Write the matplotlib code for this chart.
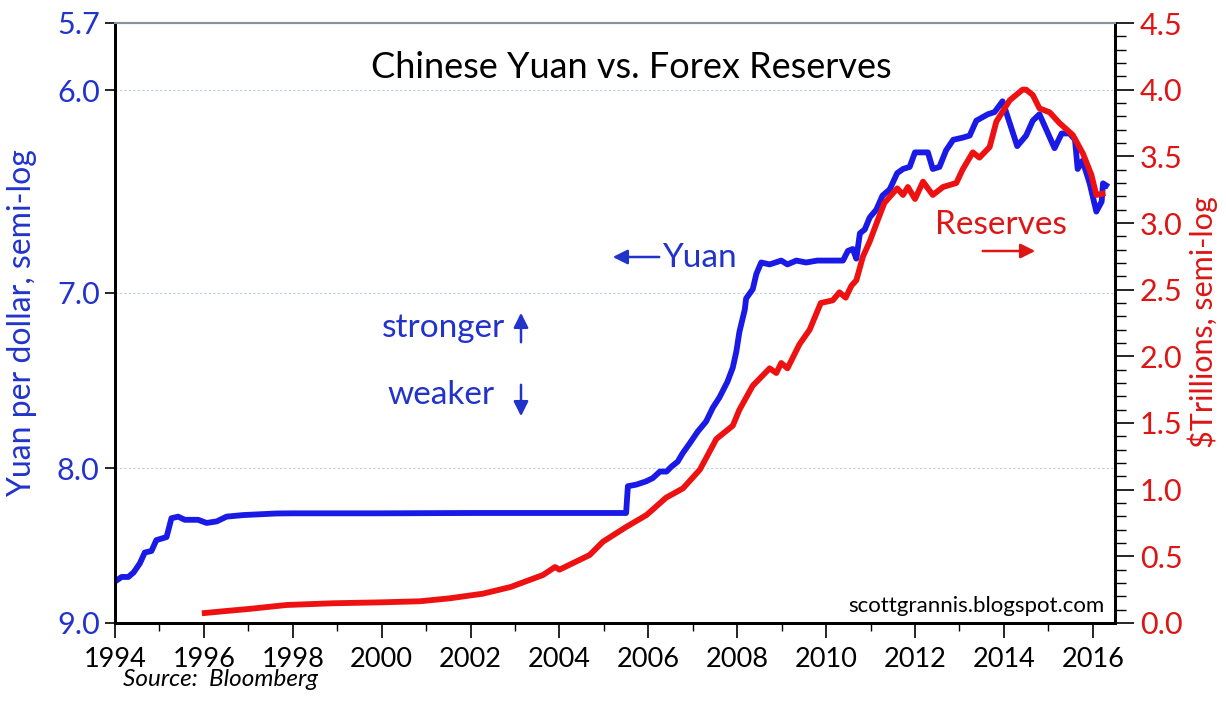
import matplotlib
matplotlib.use('Agg')
import matplotlib.pyplot as plt
from matplotlib.ticker import FixedLocator, NullLocator, MultipleLocator

# yuan per dollar (decimal year, CNY)
yuan_t = [1994.0, 1994.15, 1994.3, 1994.42, 1994.56, 1994.67, 1994.82, 1994.93,
          1995.16, 1995.27, 1995.42, 1995.57, 1995.87, 1996.06, 1996.29, 1996.51,
          1996.89, 1997.64, 1998.0, 2000.0, 2002.0, 2004.0, 2005.5,
          2005.54, 2005.73, 2005.95, 2006.1, 2006.26, 2006.41, 2006.52, 2006.66,
          2006.77, 2006.93, 2007.11, 2007.3, 2007.45, 2007.6, 2007.78, 2007.9,
          2007.98, 2008.05, 2008.17, 2008.2, 2008.35, 2008.43, 2008.54, 2008.73,
          2008.99, 2009.13, 2009.33, 2009.55, 2009.8, 2010.1, 2010.38, 2010.49,
          2010.6, 2010.68, 2010.76, 2010.87, 2010.98, 2011.13, 2011.27, 2011.43,
          2011.6, 2011.73, 2011.88, 2012.0, 2012.14, 2012.29, 2012.4, 2012.55,
          2012.7, 2012.86, 2013.07, 2013.23, 2013.38, 2013.64, 2013.79, 2013.97,
          2014.05, 2014.3, 2014.5, 2014.65, 2014.8, 2014.95, 2015.14, 2015.3,
          2015.48, 2015.6, 2015.66, 2015.77, 2015.93, 2016.08, 2016.2, 2016.23,
          2016.3]
yuan_v = [8.72, 8.69, 8.69, 8.66, 8.60, 8.53, 8.52, 8.45,
          8.43, 8.31, 8.30, 8.32, 8.32, 8.34, 8.33, 8.30,
          8.29, 8.28, 8.279, 8.279, 8.277, 8.277, 8.277,
          8.11, 8.10, 8.08, 8.06, 8.02, 8.02, 7.99, 7.96,
          7.91, 7.85, 7.78, 7.72, 7.64, 7.58, 7.49, 7.41,
          7.32, 7.21, 7.09, 7.03, 6.98, 6.90, 6.84, 6.85,
          6.83, 6.85, 6.83, 6.84, 6.83, 6.83, 6.83, 6.78,
          6.77, 6.82, 6.69, 6.67, 6.61, 6.57, 6.50, 6.47,
          6.39, 6.37, 6.36, 6.29, 6.29, 6.29, 6.37, 6.36,
          6.28, 6.23, 6.22, 6.21, 6.14, 6.11, 6.10, 6.05,
          6.10, 6.26, 6.21, 6.14, 6.11, 6.18, 6.27, 6.20,
          6.20, 6.23, 6.37, 6.33, 6.44, 6.58, 6.53, 6.44,
          6.45]

# forex reserves, $ trillions
res_t = [1996.02, 1996.5, 1997.0, 1997.86, 1998.9, 2000.0, 2000.86, 2001.53,
         2002.28, 2002.9, 2003.63, 2003.9, 2004.0, 2004.68, 2004.98, 2005.5,
         2005.96, 2006.4, 2006.78, 2007.16, 2007.53, 2007.9, 2008.05, 2008.35,
         2008.73, 2008.88, 2008.99, 2009.13, 2009.4, 2009.63, 2009.88, 2010.15,
         2010.3, 2010.44, 2010.57, 2010.68, 2010.83, 2010.98, 2011.16, 2011.31,
         2011.6, 2011.73, 2011.84, 2012.0, 2012.18, 2012.4, 2012.63, 2012.93,
         2013.07, 2013.3, 2013.45, 2013.68, 2013.83, 2014.13, 2014.42, 2014.5,
         2014.65, 2014.8, 2015.03, 2015.25, 2015.55, 2015.78, 2015.97, 2016.08,
         2016.22]
res_v = [0.075, 0.09, 0.105, 0.135, 0.148, 0.155, 0.163, 0.185,
         0.22, 0.27, 0.36, 0.42, 0.40, 0.51, 0.61, 0.72,
         0.81, 0.94, 1.01, 1.15, 1.38, 1.48, 1.60, 1.78,
         1.91, 1.875, 1.95, 1.91, 2.09, 2.20, 2.40, 2.42,
         2.48, 2.44, 2.53, 2.57, 2.75, 2.86, 3.02, 3.15,
         3.26, 3.21, 3.27, 3.18, 3.31, 3.21, 3.27, 3.30,
         3.40, 3.53, 3.49, 3.57, 3.76, 3.92, 4.00, 4.00,
         3.96, 3.86, 3.83, 3.75, 3.66, 3.52, 3.36, 3.21,
         3.22]

yuan_ticks = [5.7, 6.0, 7.0, 8.0, 9.0]
res_ticks = [0.0, 0.5, 1.0, 1.5, 2.0, 2.5, 3.0, 3.5, 4.0, 4.5]
year_ticks = list(range(1994, 2017, 2))

BLUE = '#1a1ae6'
TBLUE = '#2233cc'
RED = '#ee1111'
TRED = '#dd1515'

plt.rcParams['font.family'] = ['Lato', 'DejaVu Sans']

W, H = 1226, 706
fig = plt.figure(figsize=(W / 100, H / 100), dpi=100)
ax = fig.add_axes([115 / W, 1 - 623 / H, 1000 / W, 600 / H])
ax2 = ax.twinx()

def fx(px):
    return px / W

def fy(py):
    return 1 - py / H

# left: yuan, inverted log
ax.plot(yuan_t, yuan_v, color=BLUE, lw=4.2, solid_joinstyle='round', zorder=3)
ax.set_yscale('log')
ax.set_ylim(9.0, 5.7)
ax.yaxis.set_major_locator(FixedLocator(yuan_ticks))
ax.yaxis.set_minor_locator(NullLocator())
ax.set_yticklabels(['%.1f' % v for v in yuan_ticks])
for v in [6.0, 7.0, 8.0]:
    ax.axhline(v, color='#b8ccf0', lw=0.8, ls=(0, (2, 2)), zorder=1)
ax.tick_params(axis='y', colors=TBLUE, labelsize=22, length=7, width=1.2, pad=4)
ax.tick_params(axis='y', color='black')

ax.set_xlim(1994, 2016.5)
ax.set_xticks(year_ticks)
ax.xaxis.set_minor_locator(MultipleLocator(1))
ax.tick_params(axis='x', which='major', labelsize=19.5, length=11, width=1.2, pad=6)
ax.tick_params(axis='x', which='minor', length=6, width=1.0)

# right: reserves
ax2.plot(res_t, res_v, color=RED, lw=4.2, solid_joinstyle='round', zorder=3)
ax2.set_ylim(0, 4.5)
ax2.set_yticks(res_ticks)
ax2.set_yticklabels(['%.1f' % v for v in res_ticks])
ax2.yaxis.set_minor_locator(MultipleLocator(0.1))
ax2.tick_params(axis='y', which='major', labelcolor=TRED, labelsize=22,
                length=14, width=1.2, pad=4)
ax2.tick_params(axis='y', which='minor', length=8, width=1.0)

for a in (ax, ax2):
    a.spines['top'].set_color('#8a9299')
    a.spines['top'].set_linewidth(1.5)
    for s in ('left', 'right', 'bottom'):
        a.spines[s].set_linewidth(2)

ax.text(0.516, 0.925, 'Chinese Yuan vs. Forex Reserves', transform=ax.transAxes,
        ha='center', va='center', fontsize=26, color='black')

fig.text(fx(22), fy(323), 'Yuan per dollar, semi-log', rotation=90, color=TBLUE,
         fontsize=23, ha='center', va='center')
fig.text(fx(1203), fy(322), '$Trillions, semi-log', rotation=90, color=TRED,
         fontsize=22, ha='center', va='center')

# annotations
fig.text(fx(662), fy(258), 'Yuan', color=TBLUE, fontsize=24, ha='left', va='center')
ax.annotate('', xy=(fx(610), fy(257)), xytext=(fx(662), fy(257)),
            xycoords='figure fraction', textcoords='figure fraction',
            arrowprops=dict(arrowstyle='-|>', color=TBLUE, lw=1.8, mutation_scale=22))
fig.text(fx(1001), fy(225), 'Reserves', color=TRED, fontsize=24, ha='center', va='center')
ax.annotate('', xy=(fx(1038), fy(251)), xytext=(fx(980), fy(251)),
            xycoords='figure fraction', textcoords='figure fraction',
            arrowprops=dict(arrowstyle='-|>', color=TRED, lw=1.8, mutation_scale=22))

fig.text(fx(505), fy(328), 'stronger', color=TBLUE, fontsize=24, ha='right', va='center')
ax.annotate('', xy=(fx(521), fy(310)), xytext=(fx(521), fy(345)),
            xycoords='figure fraction', textcoords='figure fraction',
            arrowprops=dict(arrowstyle='-|>', color=TBLUE, lw=1.8, mutation_scale=22))
fig.text(fx(495), fy(395), 'weaker', color=TBLUE, fontsize=24, ha='right', va='center')
ax.annotate('', xy=(fx(521), fy(419)), xytext=(fx(521), fy(382)),
            xycoords='figure fraction', textcoords='figure fraction',
            arrowprops=dict(arrowstyle='-|>', color=TBLUE, lw=1.8, mutation_scale=22))

fig.text(fx(1105), fy(606), 'scottgrannis.blogspot.com', color='black', fontsize=16,
         ha='right', va='center')
fig.text(fx(123), fy(680), 'Source:  Bloomberg', color='black', fontsize=17.5,
         style='italic', ha='left', va='center')

fig.savefig('out.png', dpi=100)
